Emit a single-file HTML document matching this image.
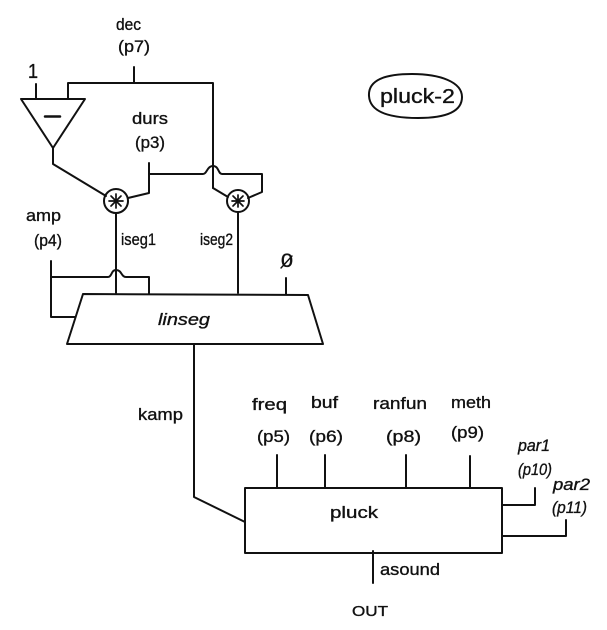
<!DOCTYPE html>
<html>
<head>
<meta charset="utf-8">
<style>
html,body{margin:0;padding:0;background:#fff;width:607px;height:630px;overflow:hidden}
svg{display:block}
text{font-family:"Liberation Sans",sans-serif;font-size:17px;fill:#111;stroke:#111;stroke-width:.35}
path,line,circle{fill:none;stroke:#111;stroke-width:2;stroke-linecap:round;stroke-linejoin:round}
</style>
</head>
<body>
<svg width="607" height="630" viewBox="0 0 607 630" xmlns="http://www.w3.org/2000/svg">
<!-- top section -->
<path d="M134 67V83M68 99V83H213V165"/>
<path d="M213 188V165"/>
<path d="M21 99H85L53 148Z"/>
<path d="M45 116.500H60" style="stroke-width:2.500"/>
<path d="M36 84V99"/>
<path d="M53 148V164L106 196"/>
<circle cx="116" cy="201" r="12"/>
<path d="M109 201H123M116 194V208M111 196L121 206M121 196L111 206" style="stroke-width:1.700"/>
<path d="M128 198L149 193V163"/>
<path d="M149 174H203C207 174 207 166 213 166C219 166 218 174 222 174H262V192L248 198"/>
<path d="M213 188L228 197"/>
<circle cx="238" cy="201" r="11"/>
<path d="M232 201H244M238 195V207M233 196L243 206M243 196L233 206" style="stroke-width:1.700"/>
<path d="M116 213V293M238 212V293"/>
<!-- linseg -->
<path d="M51 261V317H75"/>
<path d="M51 277H108C112 277 111 270 116 270C122 270 121 277 126 277H149V294"/>
<path d="M83 294L308 295L323 344H67Z"/>
<path d="M286 278V294"/>
<path d="M194 344V497L245 522"/>
<!-- pluck -->
<path d="M245 488H502V553H245Z"/>
<path d="M277 455V488M325 455V488M406 455V488M470 456V488"/>
<path d="M502 505H535V488M502 536H566V520"/>
<path d="M373 551V583"/>
<!-- title -->
<path d="M369 96C368 80 385 74 412 74C440 74 462 82 462 97C462 112 445 118 418 118C390 118 370 112 369 96Z"/>
<!-- labels -->
<text x="116" y="30" textLength="25" lengthAdjust="spacingAndGlyphs">dec</text>
<text x="118" y="52" textLength="32" lengthAdjust="spacingAndGlyphs">(p7)</text>
<text x="28" y="78" textLength="10" lengthAdjust="spacingAndGlyphs" style="font-size:20px">1</text>
<text x="132" y="124" textLength="36" lengthAdjust="spacingAndGlyphs">durs</text>
<text x="135" y="148" textLength="30" lengthAdjust="spacingAndGlyphs">(p3)</text>
<text x="26" y="221" textLength="35" lengthAdjust="spacingAndGlyphs">amp</text>
<text x="34" y="246" textLength="28" lengthAdjust="spacingAndGlyphs">(p4)</text>
<text x="121" y="245" textLength="35" lengthAdjust="spacingAndGlyphs">iseg1</text>
<text x="200" y="245" textLength="33" lengthAdjust="spacingAndGlyphs">iseg2</text>
<text x="281" y="267" textLength="12" lengthAdjust="spacingAndGlyphs" style="font-size:19px">0</text>
<path d="M281 268L292 256" style="stroke-width:1.400"/>
<text x="158" y="325" textLength="52" lengthAdjust="spacingAndGlyphs" font-style="italic">linseg</text>
<text x="138" y="420" textLength="45" lengthAdjust="spacingAndGlyphs">kamp</text>
<text x="252" y="410" textLength="35" lengthAdjust="spacingAndGlyphs">freq</text>
<text x="311" y="408" textLength="27" lengthAdjust="spacingAndGlyphs">buf</text>
<text x="373" y="409" textLength="54" lengthAdjust="spacingAndGlyphs">ranfun</text>
<text x="451" y="408" textLength="40" lengthAdjust="spacingAndGlyphs">meth</text>
<text x="257" y="442" textLength="33" lengthAdjust="spacingAndGlyphs">(p5)</text>
<text x="309" y="442" textLength="34" lengthAdjust="spacingAndGlyphs">(p6)</text>
<text x="386" y="442" textLength="35" lengthAdjust="spacingAndGlyphs">(p8)</text>
<text x="451" y="438" textLength="33" lengthAdjust="spacingAndGlyphs">(p9)</text>
<text x="518" y="451" textLength="32" lengthAdjust="spacingAndGlyphs" font-style="italic">par1</text>
<text x="518" y="475" textLength="34" lengthAdjust="spacingAndGlyphs" font-style="italic">(p10)</text>
<text x="553" y="490" textLength="37" lengthAdjust="spacingAndGlyphs" font-style="italic">par2</text>
<text x="552" y="513" textLength="35" lengthAdjust="spacingAndGlyphs" font-style="italic">(p11)</text>
<text x="330" y="518" textLength="48" lengthAdjust="spacingAndGlyphs">pluck</text>
<text x="380" y="575" textLength="60" lengthAdjust="spacingAndGlyphs">asound</text>
<text x="352" y="616" textLength="36" lengthAdjust="spacingAndGlyphs" style="font-size:15px">OUT</text>
<text x="380" y="103" textLength="75" lengthAdjust="spacingAndGlyphs" style="font-size:20px">pluck-2</text>
</svg>
</body>
</html>
